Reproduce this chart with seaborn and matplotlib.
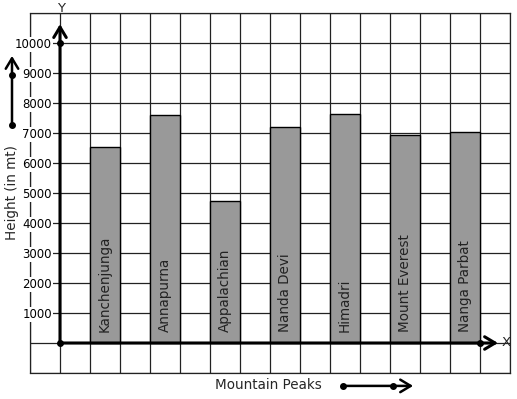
import matplotlib
matplotlib.use("Agg")
import matplotlib.pyplot as plt
import seaborn as sns
import pandas as pd
import numpy as np

# ---- data ----
peaks = ["Kanchenjunga", "Annapurna", "Appalachian", "Nanda Devi",
         "Himadri", "Mount Everest", "Nanga Parbat"]
heights = [6520, 7600, 4750, 7200, 7630, 6920, 7020]
ytick_values = [-1000, 0, 1000, 2000, 3000, 4000, 5000, 6000, 7000, 8000,
                9000, 10000, 11000]
ytick_labels = ["", "", "1000", "2000", "3000", "4000", "5000", "6000",
                "7000", "8000", "9000", "10000", ""]
x_label = "Mountain Peaks"
y_label = "Height (in mt)"

sns.set_style("white")
plt.rcParams["font.family"] = ["DejaVu Sans"]

positions = [1.5 + 2 * i for i in range(len(peaks))]
df = pd.DataFrame({"peak": peaks, "pos": positions, "height": heights})

fig = plt.figure(figsize=(5.17, 3.99), dpi=100)
W, H = 517, 399
ax = fig.add_axes([30 / W, 1 - 373 / H, 480 / W, 360 / H])

sns.barplot(data=df, x="pos", y="height", native_scale=True, width=0.5,
            color="#999999", saturation=1, edgecolor="black", linewidth=1.0,
            ax=ax, zorder=3)

ax.set_xlim(-1, 15)
ax.set_ylim(-1000, 11000)

# grid
ax.set_xticks([], minor=False)
ax.set_xticks(np.arange(-1, 16), minor=True)
ax.set_yticks(ytick_values, ytick_labels)
ax.tick_params(axis="x", which="both", length=0, labelbottom=False)
ax.tick_params(axis="y", which="major", length=5, width=0.8, color="black",
               direction="out", pad=0.8, labelsize=8.5, labelcolor="black")
ax.grid(True, which="both", color="#222222", linewidth=0.9)
ax.set_axisbelow(True)
ax.yaxis.set_zorder(0.7)

ax.spines["left"].set_position(("data", 0))
ax.spines["left"].set_visible(False)
for s in ["top", "right", "bottom"]:
    ax.spines[s].set_color("#222222")
    ax.spines[s].set_linewidth(0.9)
ax.axvline(-1, color="#222222", lw=0.9, clip_on=False, zorder=0.3)
ax.set_xlabel("")
ax.set_ylabel("")

# main axes lines with arrows
arr = dict(arrowstyle="->,head_length=0.5,head_width=0.3", color="black",
           lw=2.2, shrinkA=0, shrinkB=0, mutation_scale=15)
ax.annotate("", xy=(0, 10630), xytext=(0, 0), arrowprops=arr,
            annotation_clip=False, zorder=5)
ax.annotate("", xy=(14.6, 0), xytext=(0, 0), arrowprops=arr,
            annotation_clip=False, zorder=5)
ax.plot([0, 0, 14], [0, 10000, 0], "o", color="black", ms=4, zorder=6,
        clip_on=False)
ax.text(0.03, 11150, "Y", ha="center", va="center", fontsize=9.5,
        clip_on=False)
ax.text(14.87, 0, "X", ha="center", va="center", fontsize=9.5, clip_on=False)

# bar labels
for p, name in zip(positions, peaks):
    ax.text(p, 360, name, rotation=90, ha="center", va="bottom",
            fontsize=9.75, color="#222222", zorder=4)

# outside labels and arrows
arr2 = dict(arrowstyle="->,head_length=0.5,head_width=0.3", color="black",
            lw=1.8, shrinkA=0, shrinkB=0, mutation_scale=15)
ax.annotate("", xy=(-1.6, 9570), xytext=(-1.6, 7270), arrowprops=arr2,
            annotation_clip=False)
ax.plot([-1.6, -1.6], [7270, 8930], "o", color="black", ms=4, clip_on=False)
ax.text(-1.6, 5030, y_label, rotation=90, ha="center", va="center",
        fontsize=9.75, clip_on=False)

ax.annotate("", xy=(11.77, -1430), xytext=(9.43, -1430), arrowprops=arr2,
            annotation_clip=False)
ax.plot([9.43, 11.1], [-1430, -1430], "o", color="black", ms=4, clip_on=False)
ax.text(6.95, -1400, x_label, ha="center", va="center", fontsize=9.75,
        clip_on=False)

fig.canvas.draw()
for tick in ax.yaxis.get_major_ticks():
    if tick.label1.get_text():
        tick.label1.set_bbox(dict(facecolor="white", edgecolor="none",
                                  pad=0.5))

fig.savefig("out.png", dpi=100)
